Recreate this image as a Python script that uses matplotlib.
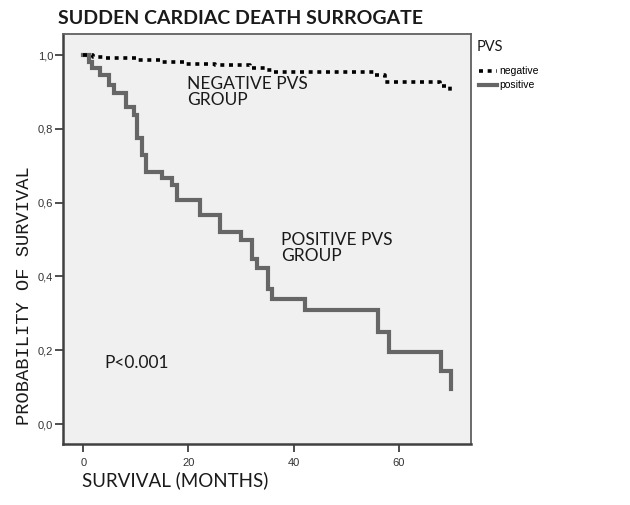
import matplotlib
matplotlib.use("Agg")
import matplotlib.pyplot as plt
from matplotlib.lines import Line2D

# Kaplan-Meier steps (months, survival)
pos_time = [0, 1.0, 1.6, 3.2, 4.8, 5.9, 8.1, 9.7, 10.2, 11.1, 11.9, 14.9, 16.8,
            17.9, 22.1, 26.0, 30.0, 32.1, 33.0, 35.2, 35.9, 42.2, 56.0, 58.1, 68.1, 70.0]
pos_surv = [1.0, 0.982, 0.964, 0.946, 0.919, 0.896, 0.860, 0.837, 0.774, 0.729, 0.684,
            0.666, 0.648, 0.607, 0.566, 0.521, 0.499, 0.446, 0.422, 0.365, 0.338, 0.309,
            0.250, 0.196, 0.144, 0.094]

neg_time = [0, 1.8, 4.1, 10.4, 14.6, 19.4, 25.1, 31.8, 34.6, 35.9, 55.6, 57.5, 67.9, 69.8]
neg_surv = [1.0, 0.995, 0.992, 0.986, 0.982, 0.977, 0.972, 0.966, 0.960, 0.953,
            0.946, 0.928, 0.916, 0.893]

x_ticks = [0, 20, 40, 60]
y_ticks = [0.0, 0.2, 0.4, 0.6, 0.8, 1.0]
y_ticklabels = ["0,0", "0,2", "0,4", "0,6", "0,8", "1,0"]

W, H = 630, 505
fig = plt.figure(figsize=(W / 100, H / 100), dpi=100, facecolor="white")


def px(x, y):
    return x / W, 1 - y / H


ax = fig.add_axes([63 / W, 1 - 444 / H, 408 / W, 410 / H])
ax.set_facecolor("#f0f0f0")
for s in ax.spines.values():
    s.set_color("#606060")
    s.set_linewidth(1.3)
ax.spines["left"].set_color("#404040")
ax.spines["bottom"].set_color("#404040")
ax.spines["left"].set_linewidth(1.8)
ax.spines["bottom"].set_linewidth(1.8)

ax.step(neg_time, neg_surv, where="post", color="black", lw=2.6,
        linestyle=(0, (1.1, 1.3)), dash_capstyle="butt", label="negative", zorder=3)
ax.step(pos_time, pos_surv, where="post", color="#666666", lw=3.0,
        solid_joinstyle="miter", label="positive", zorder=2)

ax.set_xlim(-3.9, 73.8)
ax.set_ylim(-0.054, 1.057)
ax.set_xticks(x_ticks)
ax.set_yticks(y_ticks)
ax.set_yticklabels(y_ticklabels)
ax.tick_params(direction="out", length=6, width=1.3, color="#404040",
               labelsize=8, labelcolor="#333333")
for lab in ax.get_xticklabels() + ax.get_yticklabels():
    lab.set_family("Liberation Sans")
ax.tick_params(axis="x", pad=4)
ax.tick_params(axis="y", pad=1)

hum = "Lato"
fig.text(*px(240, 18), "SUDDEN CARDIAC DEATH SURROGATE", ha="center", va="center",
         family=hum, fontweight="bold", fontsize=14, color="#1a1a1a")
fig.text(*px(82, 480), "SURVIVAL (MONTHS)", ha="left", va="center",
         family=hum, fontsize=13.5, color="#1a1a1a")
fig.text(*px(25, 296), "PROBABILITY OF SURVIVAL", ha="center", va="center",
         rotation=90, family="Liberation Mono", fontsize=13.5, color="#1a1a1a")

fig.text(*px(187, 92), "NEGATIVE PVS\nGROUP", ha="left", va="center",
         family=hum, fontsize=12.5, color="#1a1a1a", linespacing=1.05)
fig.text(*px(281, 248), "POSITIVE PVS\nGROUP", ha="left", va="center",
         family=hum, fontsize=12.5, color="#1a1a1a", linespacing=1.05)
fig.text(*px(104, 363), "P<0.001", ha="left", va="center",
         family=hum, fontsize=12.5, color="#1a1a1a")

# legend
fig.text(*px(477, 47), "PVS", ha="left", va="center",
         family=hum, fontsize=10.5, color="#1a1a1a")
handles = [Line2D([], [], color="black", lw=2.6, linestyle=(0, (1.1, 1.3)),
                  dash_capstyle="butt"),
           Line2D([], [], color="#666666", lw=3.0)]
leg = fig.legend(handles, ["negative", "positive"], loc="upper left",
                 bbox_to_anchor=px(472, 59), frameon=False,
                 handlelength=1.7, handletextpad=0.2,
                 labelspacing=0.4, borderpad=0.2,
                 prop={"family": "Liberation Sans", "size": 7.5})

fig.savefig("out.png", dpi=100, facecolor="white")
